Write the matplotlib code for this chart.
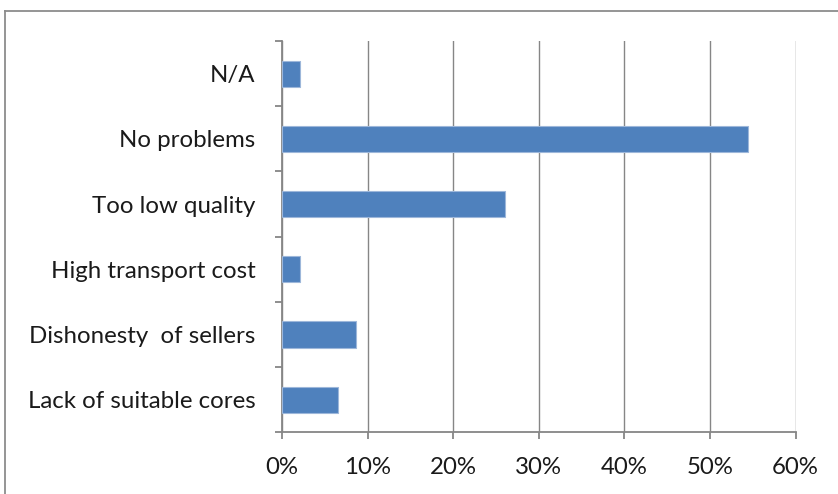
import matplotlib
matplotlib.use("Agg")
import matplotlib.pyplot as plt
from matplotlib.lines import Line2D
from matplotlib.ticker import FixedLocator, PercentFormatter

categories = ["Lack of suitable cores", "Dishonesty  of sellers", "High transport cost",
              "Too low quality", "No problems", "N/A"]
shares = [6.5, 8.7, 2.1, 26.0, 54.4, 2.1]
x_ticks = [0, 10, 20, 30, 40, 50, 60]

bar_color = "#4F81BD"
edge_color = "#9DB7DA"
grid_color = "#868686"

plt.rcParams["font.family"] = ["Lato", "DejaVu Sans"]

fig = plt.figure(figsize=(8.38, 4.94), dpi=100)
fig.patch.set_facecolor("white")
ax = fig.add_axes([0.3365, 0.1249, 0.9495 - 0.3365, 0.917 - 0.1249])

pos = list(range(len(categories)))
ax.barh(pos, shares, height=0.4, color=bar_color, edgecolor=edge_color, linewidth=0.8, zorder=3)

ax.set_xlim(0, 60)
ax.set_ylim(-0.5, len(categories) - 0.5)
ax.set_xticks(x_ticks)
ax.xaxis.set_major_formatter(PercentFormatter(decimals=0))
ax.set_yticks(pos)
ax.set_yticklabels(categories)
ax.yaxis.set_minor_locator(FixedLocator([p - 0.5 for p in pos] + [len(categories) - 0.5]))

ax.grid(axis="x", color=grid_color, linewidth=1.0, zorder=0)
ax.set_axisbelow(True)

for side in ["top", "right"]:
    ax.spines[side].set_visible(False)
for side in ["left", "bottom"]:
    ax.spines[side].set_color(grid_color)
    ax.spines[side].set_linewidth(1.3)

ax.tick_params(axis="y", which="major", length=0, pad=19, labelsize=17.3, colors="#1a1a1a")
ax.tick_params(axis="y", which="minor", length=5, width=1.3, color=grid_color, direction="out")
ax.tick_params(axis="x", which="major", length=5, width=1.3, color=grid_color,
               direction="out", pad=13, labelsize=17.3, labelcolor="#1a1a1a")

# chart-area border (top and left edges)
fig.add_artist(Line2D([5 / 838, 1.0], [1 - 11 / 494, 1 - 11 / 494], color="#8c8c8c", linewidth=1.3))
fig.add_artist(Line2D([5 / 838, 5 / 838], [1 - 11 / 494, 0.0], color="#8c8c8c", linewidth=1.3))

fig.savefig("out.png", dpi=100)
